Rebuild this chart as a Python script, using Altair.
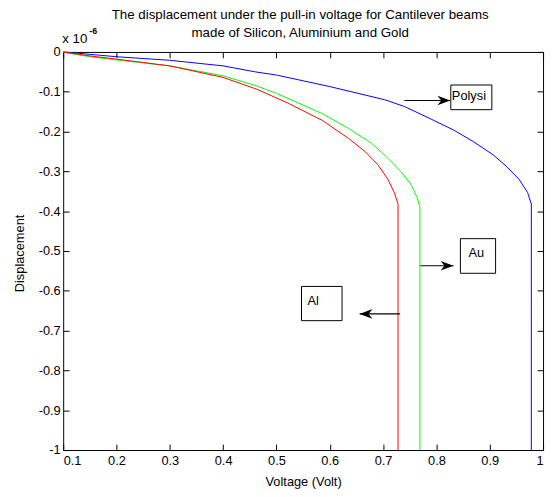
import altair as alt
import pandas as pd

# ---- data ----
poly_v = [0.1, 0.15, 0.2, 0.3, 0.4, 0.46, 0.5, 0.6, 0.65, 0.703, 0.740, 0.789, 0.832, 0.869, 0.906, 0.931, 0.955, 0.971, 0.978, 0.978]
poly_d = [0, -0.006, -0.012, -0.021, -0.035, -0.050, -0.058, -0.087, -0.103, -0.120, -0.137, -0.168, -0.196, -0.225, -0.258, -0.287, -0.320, -0.353, -0.382, -1]

au_v = [0.1, 0.15, 0.2, 0.3, 0.4, 0.462, 0.5, 0.524, 0.586, 0.635, 0.678, 0.709, 0.733, 0.752, 0.764, 0.769, 0.769]
au_d = [-0.001, -0.012, -0.020, -0.035, -0.060, -0.085, -0.104, -0.118, -0.155, -0.192, -0.229, -0.267, -0.300, -0.332, -0.366, -0.390, -1]

al_v = [0.1, 0.15, 0.2, 0.3, 0.4, 0.462, 0.524, 0.586, 0.635, 0.666, 0.690, 0.709, 0.721, 0.728, 0.728]
al_d = [0, -0.010, -0.018, -0.035, -0.064, -0.093, -0.130, -0.172, -0.217, -0.250, -0.283, -0.320, -0.353, -0.382, -1]

materials = ["Polysi", "Au", "Al"]
colors = ["#0000ff", "#00ff00", "#ff0000"]

x_ticks = [0.1, 0.2, 0.3, 0.4, 0.5, 0.6, 0.7, 0.8, 0.9, 1.0]
y_ticks = [0, -0.1, -0.2, -0.3, -0.4, -0.5, -0.6, -0.7, -0.8, -0.9, -1.0]

title_lines = ["The displacement under the pull-in voltage for Cantilever beams",
               "made of Silicon, Aluminium and Gold"]
x_title = "Voltage (Volt)"
y_title = "Displacement"
exp_base = "x 10"
exp_power = "-6"

# annotation boxes / labels / arrows
box_label = ["Polysi", "Au", "Al"]
box_x1 = [0.827, 0.845, 0.547]
box_x2 = [0.904, 0.911, 0.623]
box_y1 = [-0.083, -0.469, -0.589]
box_y2 = [-0.145, -0.556, -0.675]
text_x = [0.829, 0.860, 0.558]
text_y = [-0.112, -0.504, -0.627]
arrow_from = [0.740, 0.770, 0.732]
arrow_to = [0.826, 0.832, 0.656]
arrow_y = [-0.122, -0.537, -0.658]
arrow_angle = [0, 0, 180]

# ---- build tables ----
rows = []
for name, vs, ds in [("Polysi", poly_v, poly_d), ("Au", au_v, au_d), ("Al", al_v, al_d)]:
    for i, (a, b) in enumerate(zip(vs, ds)):
        rows.append({"material": name, "v": a, "d": b, "i": i})
df = pd.DataFrame(rows)

boxes = pd.DataFrame({"label": box_label, "x1": box_x1, "x2": box_x2,
                      "y1": box_y1, "y2": box_y2, "tx": text_x, "ty": text_y})
arrows = pd.DataFrame({"xa": arrow_from, "xb": arrow_to, "y": arrow_y, "ang": arrow_angle})

W, H = 487, 404
FONT = "Liberation Sans"
FS = 13
xscale = alt.Scale(domain=[0.1, 1.0], nice=False, zero=False)
yscale = alt.Scale(domain=[-1.0, 0.0], nice=False, zero=False)

x_label_expr = "datum.value > 0.999 ? '1' : format(datum.value, '.1f')"
y_label_expr = ("datum.value > -0.001 ? '0' : (datum.value < -0.999 ? '-1' : "
                "'-' + format(abs(datum.value), '.1f'))")

lines = alt.Chart(df).mark_line(strokeWidth=1).encode(
    x=alt.X("v:Q", scale=xscale,
            axis=alt.Axis(orient="bottom", values=x_ticks, ticks=False, tickSize=0,
                          domain=False, grid=False, labelExpr=x_label_expr,
                          labelPadding=5, labelFontSize=FS, labelFont=FONT, labelColor="black",
                          title=x_title, titleFont=FONT, titleFontSize=FS,
                          titleFontWeight="normal", titleColor="black",
                          titleY=32, titleBaseline="middle")),
    y=alt.Y("d:Q", scale=yscale,
            axis=alt.Axis(orient="left", values=y_ticks, ticks=False, tickSize=0,
                          domain=False, grid=False, labelExpr=y_label_expr,
                          labelPadding=3, labelFontSize=FS, labelFont=FONT, labelColor="black",
                          title=y_title, titleFont=FONT, titleFontSize=FS,
                          titleFontWeight="normal", titleColor="black",
                          titleX=-44, titleY=H / 2 + 2, titleBaseline="middle")),
    color=alt.Color("material:N", scale=alt.Scale(domain=materials, range=colors), legend=None),
    order=alt.Order("i:Q"),
)


def tick_layer(xorient, xoff, yorient, yoff):
    return alt.Chart(df).mark_point(opacity=0).encode(
        x=alt.X("v:Q", scale=xscale,
                axis=alt.Axis(orient=xorient, offset=xoff, values=x_ticks, labels=False,
                              domain=False, grid=False, ticks=True, tickSize=6,
                              tickColor="black", tickWidth=1, title=None)),
        y=alt.Y("d:Q", scale=yscale,
                axis=alt.Axis(orient=yorient, offset=yoff, values=y_ticks, labels=False,
                              domain=False, grid=False, ticks=True, tickSize=6,
                              tickColor="black", tickWidth=1, title=None)),
    )


ticks_a = tick_layer("top", -H, "right", -W)
ticks_b = tick_layer("bottom", -H, "left", -W)

rects = alt.Chart(boxes).mark_rect(fill="white", stroke="black", strokeWidth=1).encode(
    x=alt.X("x1:Q", scale=xscale, axis=None), x2="x2:Q",
    y=alt.Y("y1:Q", scale=yscale, axis=None), y2="y2:Q",
)
labels = alt.Chart(boxes).mark_text(align="left", baseline="middle", font=FONT,
                                    fontSize=FS, color="black").encode(
    x=alt.X("tx:Q", scale=xscale, axis=None), y=alt.Y("ty:Q", scale=yscale, axis=None),
    text="label:N",
)
shafts = alt.Chart(arrows).mark_rule(color="black", strokeWidth=1.2).encode(
    x=alt.X("xa:Q", scale=xscale, axis=None), x2="xb:Q",
    y=alt.Y("y:Q", scale=yscale, axis=None),
)
heads = alt.Chart(arrows).mark_point(
    shape="M0,0 L-2,-0.75 L-1.4,0 L-2,0.75 Z", filled=True, size=169,
    color="black", opacity=1, strokeWidth=0,
).encode(
    x=alt.X("xb:Q", scale=xscale, axis=None), y=alt.Y("y:Q", scale=yscale, axis=None),
    angle=alt.Angle("ang:Q", scale=None),
)

exp_df = pd.DataFrame({"base": [exp_base], "pw": [exp_power]})
exp_base_txt = alt.Chart(exp_df).mark_text(align="left", baseline="middle", font=FONT,
                                           fontSize=13.5, color="black").encode(
    x=alt.value(-1), y=alt.value(-13), text="base:N")
exp_pow_txt = alt.Chart(exp_df).mark_text(align="left", baseline="middle", font=FONT,
                                          fontSize=9, fontWeight="bold", color="black").encode(
    x=alt.value(26.5), y=alt.value(-21), text="pw:N")

title_df = pd.DataFrame({"l1": [title_lines[0]], "l2": [title_lines[1]]})
title1 = alt.Chart(title_df).mark_text(align="center", baseline="middle", font=FONT,
                                       fontSize=13.5, color="black").encode(
    x=alt.value(W / 2 - 3), y=alt.value(-37), text="l1:N")
title2 = alt.Chart(title_df).mark_text(align="center", baseline="middle", font=FONT,
                                       fontSize=13.5, color="black").encode(
    x=alt.value(W / 2 - 3), y=alt.value(-19), text="l2:N")

chart = alt.layer(
    lines, ticks_a, ticks_b, rects, labels, shafts, heads, exp_base_txt, exp_pow_txt,
    title1, title2,
).resolve_axis(x="independent", y="independent").properties(
    width=W, height=H,
    autosize=alt.AutoSizeParams(type="none"),
    padding={"left": 56, "top": 41, "right": 3, "bottom": 40},
    background="white",
).configure_view(stroke="black", strokeWidth=1)

chart.save("out.html", embed_options={"renderer": "svg", "actions": False})
